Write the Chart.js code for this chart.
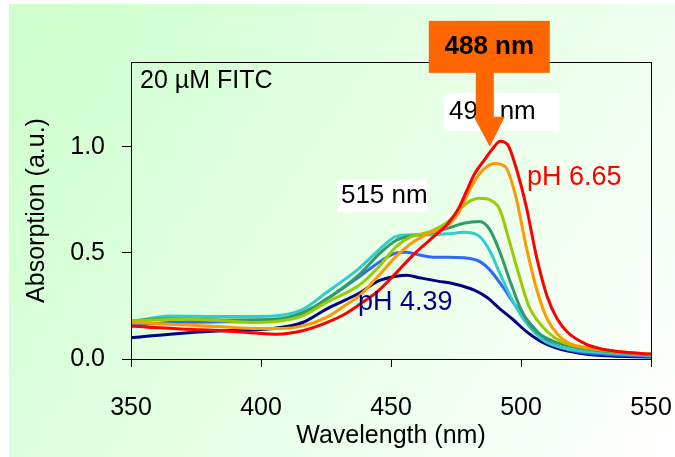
<!DOCTYPE html>
<html>
<head>
<meta charset="utf-8">
<script src="https://cdn.jsdelivr.net/npm/chart.js@4.4.1/dist/chart.umd.min.js"></script>
<style>
  html, body { margin: 0; padding: 0; background: #ffffff; }
  #wrap { width: 675px; height: 457px; }
</style>
</head>
<body>
<div id="wrap"><canvas id="c" width="675" height="457"></canvas></div>
<script>
// ---- Data (wavelength in nm, absorption in a.u.) ----
const xTicks = [350, 400, 450, 500, 550];
const yTicks = [0.0, 0.5, 1.0];

const seriesNames = ['pH 6.65', 'pH b', 'pH c', 'pH d', 'pH e', 'pH f', 'pH 4.39'];

const wl_red = [350, 359, 372, 385, 398, 406, 416, 425, 432, 438, 445, 452, 458, 465, 472, 476, 479, 482, 486, 489, 492, 495, 498, 502, 506, 510, 514, 518, 525, 531, 538, 550];
const abs_red = [0.156, 0.148, 0.14, 0.133, 0.122, 0.117, 0.133, 0.17, 0.21, 0.258, 0.32, 0.406, 0.484, 0.562, 0.64, 0.71, 0.79, 0.87, 0.94, 0.99, 1.027, 1.008, 0.906, 0.72, 0.48, 0.297, 0.187, 0.125, 0.07, 0.047, 0.034, 0.023];

const wl_orange = [350, 359, 372, 385, 398, 408, 416, 425, 432, 438, 445, 452, 458, 465, 472, 476, 479, 482, 486, 490, 494, 498, 502, 506, 510, 514, 518, 525, 538, 550];
const abs_orange = [0.172, 0.167, 0.16, 0.152, 0.144, 0.144, 0.156, 0.195, 0.25, 0.30, 0.39, 0.484, 0.547, 0.594, 0.633, 0.69, 0.766, 0.836, 0.898, 0.922, 0.906, 0.766, 0.53, 0.33, 0.19, 0.117, 0.078, 0.055, 0.034, 0.023];

const wl_yellowgreen = [350, 372, 385, 398, 408, 416, 425, 438, 445, 452, 458, 465, 472, 476, 480, 484, 488, 492, 495, 499, 503, 508, 513, 518, 531, 550];
const abs_yellowgreen = [0.18, 0.187, 0.18, 0.172, 0.18, 0.203, 0.266, 0.35, 0.43, 0.53, 0.578, 0.60, 0.648, 0.70, 0.742, 0.758, 0.75, 0.70, 0.578, 0.406, 0.25, 0.156, 0.10, 0.07, 0.042, 0.023];

const wl_green = [350, 365, 385, 405, 416, 425, 438, 445, 452, 458, 465, 472, 478, 484, 488, 492, 496, 500, 505, 512, 518, 531, 550];
const abs_green = [0.18, 0.19, 0.184, 0.187, 0.219, 0.28, 0.40, 0.49, 0.56, 0.58, 0.594, 0.617, 0.64, 0.648, 0.61, 0.50, 0.36, 0.234, 0.14, 0.086, 0.062, 0.039, 0.02];

const wl_cyan = [350, 365, 385, 405, 416, 425, 438, 445, 452, 458, 465, 472, 478, 484, 488, 492, 497, 502, 509, 518, 531, 550];
const abs_cyan = [0.175, 0.203, 0.20, 0.203, 0.234, 0.312, 0.43, 0.51, 0.578, 0.586, 0.586, 0.59, 0.597, 0.578, 0.51, 0.40, 0.27, 0.17, 0.085, 0.047, 0.031, 0.016];

const wl_blue = [350, 365, 385, 405, 416, 425, 438, 445, 452, 456, 461, 466, 472, 478, 484, 488, 493, 498, 504, 510, 518, 531, 550];
const abs_blue = [0.156, 0.172, 0.175, 0.18, 0.21, 0.28, 0.39, 0.453, 0.50, 0.503, 0.49, 0.48, 0.48, 0.477, 0.46, 0.42, 0.34, 0.25, 0.16, 0.085, 0.045, 0.023, 0.0125];

const wl_navy = [350, 365, 385, 405, 416, 425, 438, 445, 452, 456, 461, 468, 474, 482, 487, 492, 497, 502, 508, 514, 522, 531, 550];
const abs_navy = [0.10, 0.117, 0.133, 0.144, 0.172, 0.234, 0.312, 0.367, 0.39, 0.395, 0.383, 0.367, 0.355, 0.325, 0.29, 0.235, 0.185, 0.13, 0.08, 0.05, 0.028, 0.016, 0.009];

// ---- Build datasets ----
function pts(xs, ys) { return xs.map((x, i) => ({ x: x, y: ys[i] })); }
const seriesData = [
  [wl_red, abs_red, '#ff0000'],
  [wl_orange, abs_orange, '#ff9900'],
  [wl_yellowgreen, abs_yellowgreen, '#99cc00'],
  [wl_green, abs_green, '#339966'],
  [wl_cyan, abs_cyan, '#33cccc'],
  [wl_blue, abs_blue, '#3366ff'],
  [wl_navy, abs_navy, '#000080']
];
const datasets = seriesData.map((s, i) => ({
  label: seriesNames[i],
  data: pts(s[0], s[1]),
  borderColor: s[2],
  backgroundColor: s[2],
  borderWidth: 3,
  pointRadius: 0,
  fill: false,
  cubicInterpolationMode: 'monotone'
}));

const FONT = 'Liberation Sans, Arial, sans-serif';

const decor = {
  id: 'decor',
  beforeDraw(chart) {
    const c = chart.ctx;
    c.save();
    c.fillStyle = '#ffffff';
    c.fillRect(0, 0, chart.width, chart.height);
    const g = c.createLinearGradient(9, 4, 675, 457);
    g.addColorStop(0, '#ccffcc');
    g.addColorStop(1, '#ffffff');
    c.fillStyle = g;
    c.fillRect(9, 4, chart.width - 9, chart.height - 4);
    c.restore();
  },
  afterDraw(chart) {
    const c = chart.ctx;
    const a = chart.chartArea;
    const xs = chart.scales.x, ys = chart.scales.y;
    const px = v => xs.getPixelForValue(v);
    const py = v => ys.getPixelForValue(v);
    c.save();
    // plot frame
    c.strokeStyle = '#000000';
    c.lineWidth = 1;
    c.strokeRect(a.left + 0.5, a.top + 0.5, a.right - a.left, a.bottom - a.top);

    c.textBaseline = 'middle';
    c.textAlign = 'left';
    // 20 µM FITC
    c.fillStyle = '#000000';
    c.font = '25px ' + FONT;
    c.fillText('20 µM FITC', px(353.5), py(1.311));

    // 515 nm box
    let bx = px(429.2), by = py(0.847);
    c.fillStyle = '#ffffff';
    c.fillRect(bx, by, 90, 33);
    c.fillStyle = '#000000';
    c.font = '26px ' + FONT;
    c.fillText('515 nm', bx + 4, by + 17);

    // 490 nm box
    bx = px(470.4); by = py(1.254);
    c.fillStyle = '#ffffff';
    c.fillRect(bx, by, 115, 38);
    c.fillStyle = '#000000';
    c.fillText('490 nm', bx + 5, by + 19);

    // pH labels
    c.font = '27px ' + FONT;
    c.fillStyle = '#ff0000';
    c.fillText('pH 6.65', px(502.3), py(0.857));
    c.fillStyle = '#000080';
    c.fillText('pH 4.39', px(437.3), py(0.265));

    // orange arrow pointing to 488 nm
    const tx = px(488), ty = py(1.0);
    c.fillStyle = '#ff6600';
    c.fillRect(tx - 61, ty - 126, 121, 52);
    c.fillRect(tx - 14, ty - 75, 18, 46);
    c.beginPath();
    c.moveTo(tx - 16, ty - 30);
    c.lineTo(tx + 15, ty - 30);
    c.lineTo(tx, ty);
    c.closePath();
    c.fill();
    c.fillStyle = '#000000';
    c.font = 'bold 26px ' + FONT;
    c.textAlign = 'center';
    c.fillText('488 nm', tx - 0.5, ty - 100);
    c.restore();
  }
};

new Chart(document.getElementById('c'), {
  type: 'line',
  data: { datasets: datasets },
  options: {
    responsive: false,
    animation: false,
    events: [],
    layout: { padding: { left: 0, top: 62, right: 24, bottom: 0 } },
    plugins: { legend: { display: false }, tooltip: { enabled: false } },
    scales: {
      x: {
        type: 'linear',
        min: 350, max: 550,
        afterFit(s) { s.height = 98; s.paddingLeft = 0; s.paddingRight = 0; },
        afterBuildTicks(s) { s.ticks = xTicks.map(v => ({ value: v })); },
        ticks: { stepSize: 50, color: '#000000', font: { family: FONT, size: 25 }, padding: 26, maxRotation: 0 },
        grid: { drawOnChartArea: false, drawTicks: true, tickLength: 8, color: '#000000' },
        border: { display: true, color: '#000000' },
        title: { display: true, text: 'Wavelength (nm)', color: '#000000', font: { family: FONT, size: 25 }, padding: { top: 0, bottom: 6 } }
      },
      y: {
        min: 0, max: 1.4,
        afterFit(s) { s.width = 131; s.paddingTop = 0; s.paddingBottom = 0; },
        afterBuildTicks(s) { s.ticks = yTicks.map(v => ({ value: v })); },
        ticks: { color: '#000000', font: { family: FONT, size: 25 }, padding: 17, callback: v => Number(v).toFixed(1) },
        grid: { drawOnChartArea: false, drawTicks: true, tickLength: 9, color: '#000000' },
        border: { display: true, color: '#000000' },
        title: { display: true, text: 'Absorption (a.u.)', color: '#000000', font: { family: FONT, size: 25 }, padding: { top: 22, bottom: 0 } }
      }
    }
  },
  plugins: [decor]
});
</script>
</body>
</html>
